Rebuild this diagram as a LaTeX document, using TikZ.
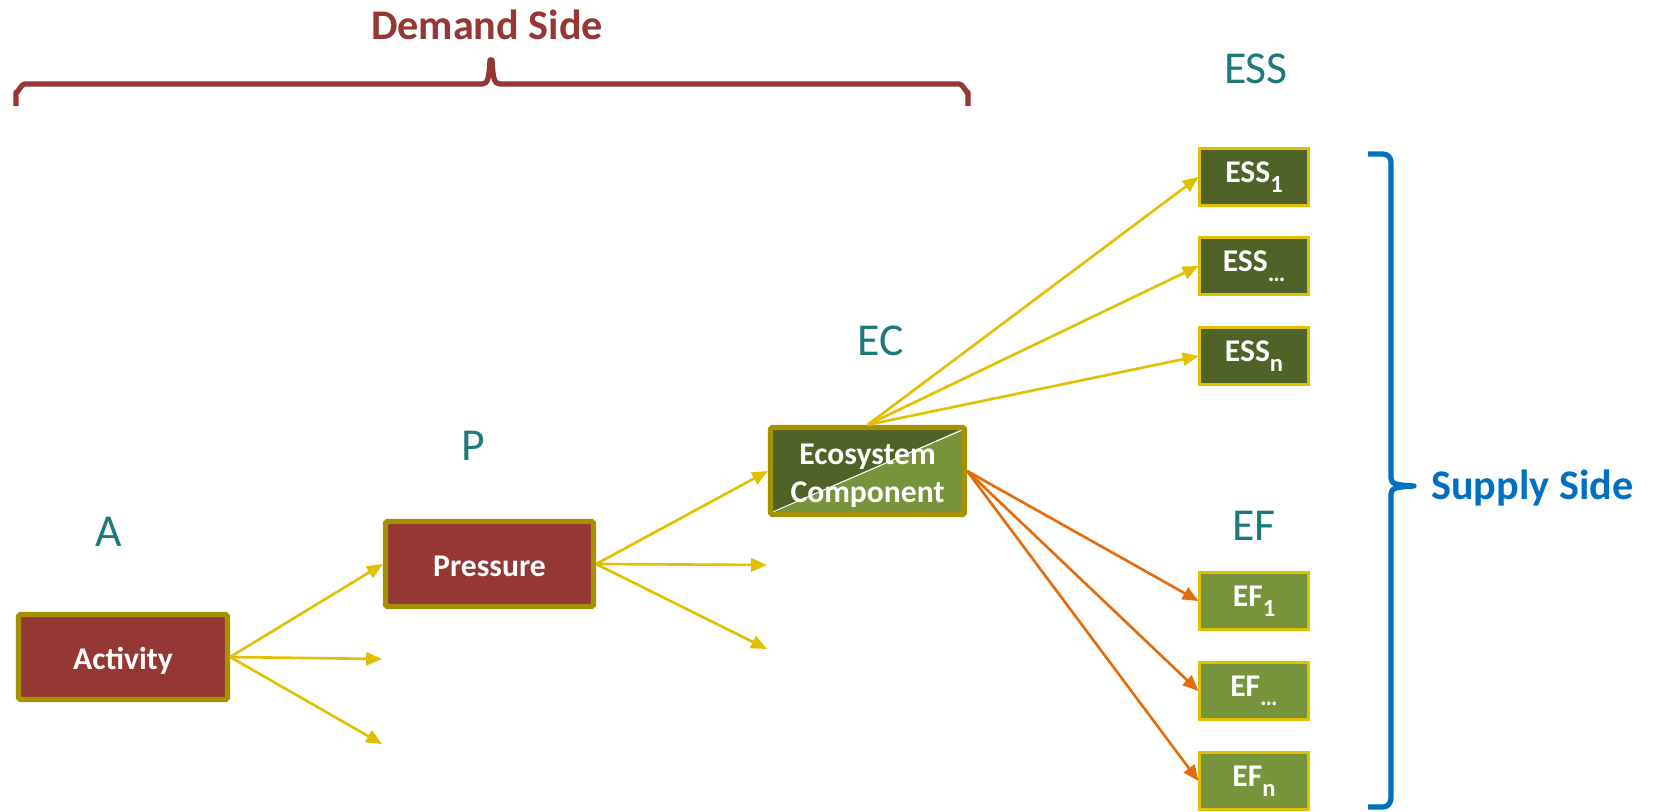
\documentclass[tikz,border=0pt]{standalone}
\usepackage{fontspec}
\setmainfont{Carlito}
\usetikzlibrary{arrows.meta}
\definecolor{demred}{RGB}{149,55,53}
\definecolor{boxbord}{RGB}{166,145,0}
\definecolor{arrowyel}{RGB}{224,192,0}
\definecolor{essgreen}{RGB}{79,98,40}
\definecolor{efgreen}{RGB}{119,147,60}
\definecolor{arroworg}{RGB}{228,108,10}
\definecolor{tealc}{RGB}{30,122,122}
\definecolor{supblue}{RGB}{0,112,192}
\newcommand{\lowsub}[1]{\raisebox{-0.3em}{\fontsize{14}{15}\selectfont #1}}
\begin{document}
\begin{tikzpicture}[x=0.02cm,y=-0.02cm,
 boxfont/.style={text=white, font=\fontsize{18}{21.5}\selectfont\bfseries, align=center},
 mainbox/.style={draw=boxbord, line width=3pt, rounded corners=1pt, boxfont, inner sep=0pt},
 smallbox/.style={draw=arrowyel, line width=1.2pt, minimum width=2.18cm, minimum height=1.14cm, boxfont, inner sep=0pt},
 ess/.style={smallbox, fill=essgreen},
 ef/.style={smallbox, fill=efgreen},
 stagelabel/.style={text=tealc, font=\fontsize{26}{30}\selectfont, anchor=base, inner sep=0pt},
 sidelabel/.style={font=\fontsize{24}{28}\selectfont\bfseries, inner sep=0pt},
 yarrow/.style={draw=arrowyel, line width=1.5pt, -{Triangle[length=9pt,width=7.5pt]}},
 oarrow/.style={draw=arroworg, line width=1.5pt, -{Triangle[length=9pt,width=7.5pt]}},
 bracepath/.style={line width=3pt, line join=round},
]
\useasboundingbox (0,0) rectangle (1655,811);

% side labels and braces
\node[sidelabel, text=demred, anchor=base] (demand) at (487,40) {Demand Side};
\draw[bracepath, draw=demred] (16,106) -- (16,92) to[out=-90,in=180] (25,84) -- (482,84)
  .. controls (488,84) and (489,78) .. (490,60) -- (492,60)
  .. controls (493,78) and (494,84) .. (500,84) -- (959,84) to[out=0,in=-90] (968,92) -- (968,106);

\node[sidelabel, text=supblue, anchor=base west] (supply) at (1431,499) {Supply Side};
\draw[bracepath, draw=supblue] (1368,154) -- (1383,154) to[out=0,in=90] (1391,162) -- (1391,478)
  .. controls (1391,484) and (1396,485) .. (1414,486)
  .. controls (1396,487) and (1391,488) .. (1391,494) -- (1391,798) to[out=-90,in=0] (1383,807) -- (1368,807);

% stage labels
\node[stagelabel] (lA) at (109,546) {A};
\node[stagelabel] (lP) at (473,460) {P};
\node[stagelabel] (lEC) at (881,355) {EC};
\node[stagelabel] (lESS) at (1256,84) {ESS};
\node[stagelabel] (lEF) at (1254,540) {EF};

% main boxes
\node[mainbox, fill=demred, minimum width=4.18cm, minimum height=1.7cm, text height=17.5pt, text depth=3.4pt] (act) at (123,657) {Activity};
\node[mainbox, fill=demred, minimum width=4.16cm, minimum height=1.7cm, text height=14pt, text depth=0pt] (pre) at (489.5,564) {Pressure};
\node[mainbox, fill=essgreen, minimum width=3.88cm, minimum height=1.74cm,
  path picture={
    \fill[efgreen] (path picture bounding box.south west) -- (path picture bounding box.north east) -- (path picture bounding box.south east) -- cycle;
    \draw[white, line width=0.6pt] ([shift={(1.5pt,1.5pt)}]path picture bounding box.south west) -- ([shift={(-1.5pt,-1.5pt)}]path picture bounding box.north east);
  }] (ec) at (867.5,471) {};
\node[boxfont, inner sep=0pt] (ectext) at ([yshift=-2.7pt]ec.center) {Ecosystem\\Component};

% ESS boxes
\node[ess] (ess1) at (1254,177) {ESS\lowsub{1}};
\node[ess] (ess2) at (1254,266) {ESS\lowsub{\ldots}};
\node[ess] (essn) at (1254,356) {ESS\lowsub{n}};
% EF boxes
\node[ef] (ef1) at (1254,601) {EF\lowsub{1}};
\node[ef] (ef2) at (1254,691) {EF\lowsub{\ldots}};
\node[ef] (efn) at (1254,781) {EF\lowsub{n}};

% free ends
\coordinate (a2) at (382,659);
\coordinate (a3) at (382,744);
\coordinate (p2) at (767,565);
\coordinate (p3) at (767,649);

% connectors
\draw[yarrow] (act.east) -- (pre.west);
\draw[yarrow] (act.east) -- (a2);
\draw[yarrow] (act.east) -- (a3);
\draw[yarrow] (pre.east) -- (ec.west);
\draw[yarrow] (pre.east) -- (p2);
\draw[yarrow] (pre.east) -- (p3);
\draw[yarrow] (ec.north) -- (ess1.west);
\draw[yarrow] (ec.north) -- (ess2.west);
\draw[yarrow] (ec.north) -- (essn.west);
\draw[oarrow] (ec.east) -- (ef1.west);
\draw[oarrow] (ec.east) -- (ef2.west);
\draw[oarrow] (ec.east) -- (efn.west);
\end{tikzpicture}
\end{document}
